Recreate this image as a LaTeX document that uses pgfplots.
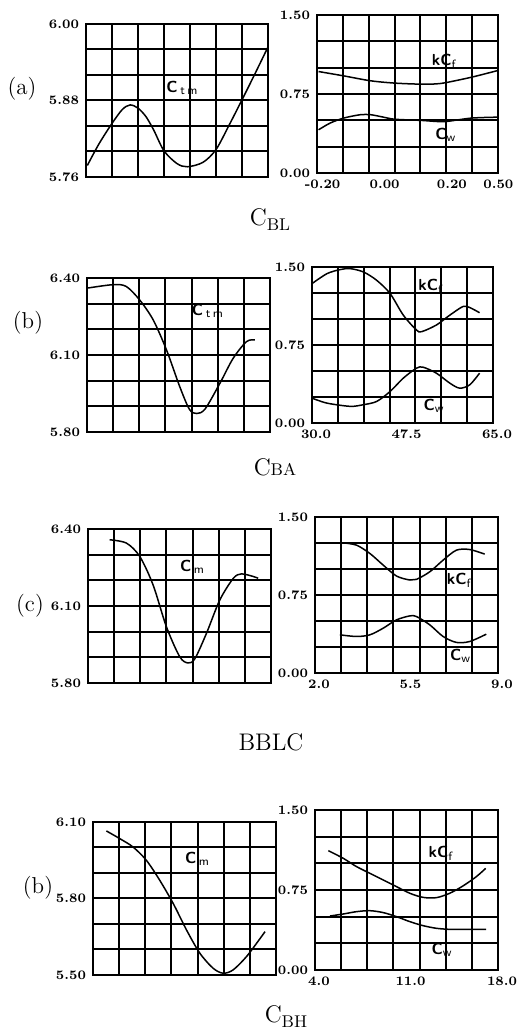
\documentclass[border=0pt]{standalone}
\usepackage{pgfplots}
\pgfplotsset{compat=1.18}
\begin{document}
\begin{tikzpicture}[x=1pt,y=1pt]
\useasboundingbox (0,0) rectangle (258,518);
\pgfplotsset{
  panel/.style={scale only axis, anchor=south west,
    axis line style={line width=1pt},
    major grid style={line width=1pt, black},
    grid=major,
    major tick length=0pt,
    tick label style={font=\fontsize{6.5}{7}\selectfont\bfseries},
    extra x tick style={grid=none, major tick length=0pt},
  },
  curve/.style={smooth, line width=0.75pt, black, mark=none},
}
\tikzset{lab/.style={font=\fontsize{8}{9}\selectfont\bfseries\sffamily, anchor=west, inner sep=0pt}}
% ---------------- row (a)
\begin{axis}[panel, at={(43pt,429.5pt)}, width=91pt, height=76.5pt,
  xmin=-0.2, xmax=0.5, ymin=5.76, ymax=6.0,
  xtick={-0.2,-0.1,0,0.1,0.2,0.3,0.4,0.5}, xticklabels=\empty,
  ytick={5.76,5.80,5.84,5.88,5.92,5.96,6.00}, yticklabels={5.76,,,5.88,,,6.00}]
\addplot[curve] coordinates {(-0.195,5.778) (-0.15,5.812) (-0.1,5.844) (-0.06,5.866) (-0.03,5.873) (0.0,5.868) (0.03,5.855) (0.06,5.834) (0.1,5.801) (0.15,5.781) (0.19,5.776) (0.25,5.783) (0.3,5.803) (0.35,5.841) (0.4,5.881) (0.45,5.922) (0.5,5.964)};
\node[lab] at (axis cs:0.108,5.90) {C$_{\,\mathsf{t\,m}}$};
\end{axis}
\begin{axis}[panel, at={(158.5pt,431.5pt)}, width=90.5pt, height=79pt,
  xmin=-0.2, xmax=0.5, ymin=0, ymax=1.5,
  xtick={-0.2,-0.1,0,0.1,0.2,0.3,0.4,0.5}, xticklabels=\empty,
  extra x ticks={-0.19,0.05,0.31,0.49}, extra x tick labels={-0.20,0.00,0.20,0.50},
  extra x tick style={xticklabel style={xshift=1.5pt}},
  ytick={0,0.25,0.5,0.75,1.0,1.25,1.5}, yticklabels={0.00,,,0.75,,,1.50}]
\addplot[curve] coordinates {(-0.194,0.963) (-0.097,0.922) (0.008,0.875) (0.102,0.853) (0.204,0.843) (0.262,0.846) (0.301,0.859) (0.397,0.909) (0.5,0.973)};
\addplot[curve] coordinates {(-0.194,0.41) (-0.149,0.474) (-0.097,0.521) (-0.033,0.553) (0.008,0.553) (0.057,0.53) (0.102,0.51) (0.204,0.499) (0.262,0.489) (0.301,0.489) (0.397,0.521) (0.5,0.53)};
\node[lab] at (axis cs:0.243,1.06) {kC$_{\mathsf{f}}$};
\node[lab] at (axis cs:0.256,0.36) {C$_{\mathsf{w}}$};
\end{axis}
% ---------------- row (b)
\begin{axis}[panel, at={(43.5pt,302pt)}, width=91.5pt, height=77pt,
  xmin=30, xmax=65, ymin=5.8, ymax=6.4,
  xtick={30,35,40,45,50,55,60,65}, xticklabels=\empty,
  ytick={5.8,5.9,6.0,6.1,6.2,6.3,6.4}, yticklabels={5.80,,,6.10,,,6.40}]
\addplot[curve] coordinates {(30.2,6.361) (35,6.374) (37.5,6.367) (40.05,6.315) (42.65,6.237) (45.2,6.12) (47.75,5.976) (49.6,5.888) (51,5.872) (52.6,5.89) (55.4,5.989) (57.95,6.087) (60.5,6.152) (62.1,6.159)};
\node[lab] at (axis cs:50,6.273) {C$_{\,\mathsf{t\,m}}$};
\end{axis}
\begin{axis}[panel, at={(156pt,306.5pt)}, width=90.5pt, height=78pt,
  xmin=30, xmax=65, ymin=0, ymax=1.5,
  xtick={30,35,40,45,50,55,60,65}, xticklabels=\empty,
  extra x ticks={30,47.5,65}, extra x tick labels={30.0,47.5,65.0},
  extra x tick style={xticklabel style={xshift=2pt}},
  ytick={0,0.25,0.5,0.75,1.0,1.25,1.5}, yticklabels={0.00,,,0.75,,,1.50}]
\addplot[curve] coordinates {(30,1.34) (32.9,1.436) (35.45,1.475) (37.4,1.484) (39.95,1.452) (42.5,1.372) (45.1,1.245) (47.65,1.037) (50.2,0.894) (51.2,0.878) (54.05,0.942) (56.65,1.037) (59.2,1.12) (60.5,1.11) (62.4,1.06)};
\addplot[curve] coordinates {(30,0.239) (32.9,0.191) (37.4,0.16) (39.95,0.176) (42.5,0.207) (45.1,0.303) (47.65,0.431) (50.2,0.527) (51.5,0.536) (54.05,0.479) (56.65,0.383) (58.55,0.335) (60.5,0.367) (62.4,0.479)};
\node[lab] at (axis cs:50.5,1.31) {kC$_{\mathsf{f}}$};
\node[lab] at (axis cs:51.5,0.16) {C$_{\mathsf{w}}$};
\end{axis}
% ---------------- row (c)
\begin{axis}[panel, at={(44pt,176.5pt)}, width=91.5pt, height=77pt,
  xmin=2, xmax=9, ymin=5.8, ymax=6.4,
  xtick={2,3,4,5,6,7,8,9}, xticklabels=\empty,
  ytick={5.8,5.9,6.0,6.1,6.2,6.3,6.4}, yticklabels={5.80,,,6.10,,,6.40}]
\addplot[curve] coordinates {(2.83,6.358) (3.47,6.345) (3.98,6.293) (4.49,6.182) (5.0,6.019) (5.51,5.902) (5.83,5.878) (6.09,5.895) (6.53,5.993) (7.04,6.123) (7.56,6.208) (7.87,6.225) (8.32,6.215) (8.51,6.208)};
\node[lab] at (axis cs:5.51,6.254) {C$_{\,\mathsf{m}}$};
\end{axis}
\begin{axis}[panel, at={(157.5pt,181.5pt)}, width=91.5pt, height=78pt,
  xmin=2, xmax=9, ymin=0, ymax=1.5,
  xtick={2,3,4,5,6,7,8,9}, xticklabels=\empty,
  extra x ticks={2,5.5,9}, extra x tick labels={2.0,5.5,9.0},
  extra x tick style={xticklabel style={xshift=2pt}},
  ytick={0,0.25,0.5,0.75,1.0,1.25,1.5}, yticklabels={0.00,,,0.75,,,1.50}]
\addplot[curve] coordinates {(3.08,1.251) (3.59,1.229) (4.1,1.149) (4.61,1.037) (5.12,0.932) (5.63,0.894) (5.88,0.9) (6.39,0.973) (6.9,1.085) (7.41,1.181) (7.92,1.187) (8.49,1.143)};
\addplot[curve] coordinates {(2.95,0.367) (3.59,0.351) (4.1,0.367) (4.61,0.431) (5.12,0.511) (5.63,0.549) (5.88,0.543) (6.39,0.463) (6.9,0.351) (7.41,0.294) (7.92,0.303) (8.55,0.373)};
\node[lab] at (axis cs:7.03,0.894) {kC$_{\mathsf{f}}$};
\node[lab] at (axis cs:7.15,0.16) {C$_{\mathsf{w}}$};
\end{axis}
% ---------------- row (d)
\begin{axis}[panel, at={(46.5pt,30.5pt)}, width=91.5pt, height=76.5pt,
  xmin=4, xmax=18, ymin=5.5, ymax=6.1,
  xtick={4,6,8,10,12,14,16,18}, xticklabels=\empty,
  ytick={5.5,5.6,5.7,5.8,5.9,6.0,6.1}, yticklabels={5.50,,,5.80,,,6.10}]
\addplot[curve] coordinates {(5.02,6.065) (6.04,6.035) (7.06,6.002) (8.08,5.95) (9.1,5.872) (10.14,5.78) (11.16,5.676) (12.18,5.585) (13.2,5.526) (13.96,5.507) (14.72,5.52) (15.74,5.572) (16.78,5.643) (17.16,5.67)};
\node[lab] at (axis cs:11.02,5.957) {C$_{\,\mathsf{m}}$};
\end{axis}
\begin{axis}[panel, at={(157.5pt,33pt)}, width=91.5pt, height=80pt,
  xmin=4, xmax=18, ymin=0, ymax=1.5,
  xtick={4,6,8,10,12,14,16,18}, xticklabels=\empty,
  extra x ticks={4,11,18}, extra x tick labels={4.0,11.0,18.0},
  extra x tick style={xticklabel style={xshift=2pt}},
  ytick={0,0.25,0.5,0.75,1.0,1.25,1.5}, yticklabels={0.00,,,0.75,,,1.50}]
\addplot[curve] coordinates {(5.02,1.119) (6.16,1.047) (7.18,0.969) (8.2,0.906) (9.22,0.844) (10.24,0.781) (11.26,0.719) (12.26,0.681) (13.28,0.678) (14.3,0.719) (15.32,0.788) (16.34,0.875) (17.06,0.953)};
\addplot[curve] coordinates {(5.14,0.506) (6.16,0.525) (7.18,0.547) (8.2,0.556) (9.22,0.538) (10.24,0.5) (11.26,0.453) (12.26,0.416) (13.28,0.391) (14.3,0.381) (15.32,0.381) (17.1,0.381)};
\node[lab] at (axis cs:12.66,1.09) {kC$_{\mathsf{f}}$};
\node[lab] at (axis cs:12.9,0.19) {C$_{\mathsf{w}}$};
\end{axis}
% ---------------- panel letters and titles
\node[font=\fontsize{11.5}{12}\selectfont] at (11,473.5) {(a)};
\node[font=\fontsize{11.5}{12}\selectfont] at (14,356.5) {(b)};
\node[font=\fontsize{11.5}{12}\selectfont] at (15,215) {(c)};
\node[font=\fontsize{11.5}{12}\selectfont] at (19,74) {(b)};
\node[font=\fontsize{12}{13}\selectfont] at (135,408) {C\raisebox{-2.5pt}{\fontsize{8.5}{9}\selectfont BL}};
\node[font=\fontsize{12}{13}\selectfont] at (137.5,284.5) {C{\fontsize{8.5}{9}\selectfont BA}};
\node[font=\fontsize{12}{13}\selectfont] at (135.5,147) {BBLC};
\node[font=\fontsize{12}{13}\selectfont] at (143,9.5) {C\raisebox{-2.5pt}{\fontsize{8.5}{9}\selectfont BH}};
\end{tikzpicture}
\end{document}
